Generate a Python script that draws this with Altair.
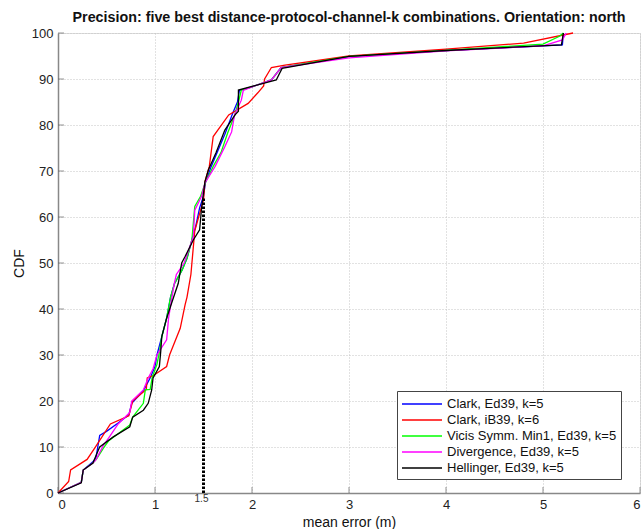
import altair as alt
import pandas as pd

series_names = [
    "Clark, Ed39, k=5",
    "Clark, iB39, k=6",
    "Vicis Symm. Min1, Ed39, k=5",
    "Divergence, Ed39, k=5",
    "Hellinger, Ed39, k=5",
]
series_colors = ["#0000ff", "#ff0000", "#00ff00", "#ff00ff", "#000000"]

blue_x = [0, 0.24, 0.26, 0.36, 0.39, 0.43, 0.5, 0.62, 0.73, 0.76, 0.88, 0.95, 1.0, 1.02, 1.07, 1.12,
          1.16, 1.2, 1.28, 1.33, 1.38, 1.42, 1.46, 1.5, 1.52, 1.58, 1.66, 1.72, 1.8, 1.85, 1.87, 2.0,
          2.2, 2.3, 3.0, 4.0, 4.9, 5.2, 5.21]
blue_y = [0, 2.3, 5, 6.8, 7.5, 12.5, 13.4, 15.2, 17, 19.5, 22.2, 25, 27.5, 30, 34, 38,
          42.5, 45.5, 48.5, 51, 55, 58, 62, 64.5, 67.5, 71, 75, 78, 82.5, 85, 87.5, 88.3,
          89.8, 92.5, 94.9, 96.2, 97.1, 97.4, 100]

red_x = [0, 0.11, 0.13, 0.3, 0.38, 0.54, 0.73, 0.77, 0.91, 0.92, 0.98, 1.12, 1.15, 1.26, 1.31, 1.33,
         1.37, 1.41, 1.5, 1.515, 1.56, 1.6, 1.76, 1.96, 2.06, 2.12, 2.13, 2.2, 2.34, 3.0, 4.0, 4.8, 5.31]
red_y = [0, 2.5, 5, 7.3, 9.8, 15, 16.8, 20, 22.5, 25, 25.5, 27.5, 30, 35.8, 40.9, 42.6,
         47.5, 57, 63.7, 67.7, 71, 77.5, 82.2, 84.7, 87, 88.5, 90, 92.5, 93, 95, 96.5, 97.8, 100]

green_x = [0, 0.24, 0.26, 0.36, 0.4, 0.47, 0.52, 0.74, 0.77, 0.88, 0.9, 0.95, 0.97, 1.02, 1.04, 1.07,
           1.12, 1.16, 1.2, 1.28, 1.33, 1.38, 1.41, 1.47, 1.52, 1.6, 1.68, 1.75, 1.82, 1.86, 1.89,
           2.0, 2.2, 2.3, 3.0, 4.0, 5.0, 5.17, 5.21]
green_y = [0, 2.3, 5, 6.5, 7.5, 9.8, 11.3, 14.8, 16.5, 19.5, 22.4, 22.5, 25, 28, 30, 34,
           38, 42.5, 45.5, 48.5, 51, 55, 62.3, 64.5, 67.5, 71, 74, 78.3, 82, 85, 87.6,
           88.3, 89.8, 92.5, 94.9, 96.2, 97.6, 99.3, 100]

magenta_x = [0, 0.24, 0.26, 0.36, 0.39, 0.47, 0.53, 0.62, 0.74, 0.76, 0.88, 0.93, 0.98, 1.02, 1.12,
             1.14, 1.17, 1.2, 1.22, 1.3, 1.395, 1.41, 1.48, 1.515, 1.62, 1.72, 1.79, 1.82, 1.89, 1.91,
             2.0, 2.2, 2.3, 3.0, 4.0, 5.0, 5.2, 5.24]
magenta_y = [0, 2.3, 5, 6.5, 7.2, 10.4, 12.2, 15, 17.5, 20, 22.4, 25, 27, 30, 33.3,
             38, 42, 45.6, 47.5, 50, 55.7, 61.5, 64.5, 67.4, 71, 75.3, 78.5, 82.2, 85.4, 87.5,
             88.3, 89.8, 92.5, 94.6, 96.1, 97.2, 98.5, 100]

black_x = [0, 0.24, 0.26, 0.36, 0.415, 0.43, 0.57, 0.74, 0.77, 0.88, 0.93, 0.966, 0.98, 1.045, 1.06,
           1.07, 1.12, 1.17, 1.24, 1.275, 1.31, 1.395, 1.46, 1.48, 1.515, 1.55, 1.63, 1.72, 1.825,
           1.86, 1.86, 2.0, 2.25, 2.31, 3.0, 4.0, 4.87, 5.19, 5.21]
black_y = [0, 2.2, 5, 6.5, 9.3, 10, 12.2, 14.4, 16.5, 18, 19.5, 22.4, 25, 27.5, 31,
           34, 38, 41.2, 45.6, 50, 51.4, 55, 57.2, 61.9, 67.7, 70.2, 74, 78.9, 82.2,
           83, 87.6, 88.4, 89.8, 92.3, 94.9, 96.2, 97.1, 97.4, 100]

threshold_x = [1.5, 1.5]
threshold_y = [0, 64]
threshold_label = ["1.5"]

x_ticks = [0, 1, 2, 3, 4, 5, 6]
y_ticks = [0, 10, 20, 30, 40, 50, 60, 70, 80, 90, 100]

title_text = "Precision: five best distance-protocol-channel-k combinations. Orientation: north"

FONT = "Liberation Sans"

all_x = [blue_x, red_x, green_x, magenta_x, black_x]
all_y = [blue_y, red_y, green_y, magenta_y, black_y]
rows = []
for name, xs, ys in zip(series_names, all_x, all_y):
    for i, (xv, yv) in enumerate(zip(xs, ys)):
        rows.append({"series": name, "err": xv, "cdf": yv, "idx": i})
df = pd.DataFrame(rows)

xscale = alt.Scale(domain=[0, 6], nice=False, zero=False)
yscale = alt.Scale(domain=[0, 100], nice=False, zero=False)

color = alt.Color(
    "series:N",
    scale=alt.Scale(domain=series_names, range=series_colors),
    legend=alt.Legend(
        title=None,
        orient="none",
        legendX=339,
        legendY=358,
        symbolType="M-2.5,0L2.5,0",
        symbolSize=256,
        symbolStrokeWidth=1.3,
        symbolOffset=12,
        labelOffset=16,
        labelFont=FONT,
        labelFontSize=13,
        labelColor="#111",
        labelLimit=400,
        strokeColor="#444",
        fillColor="white",
        padding=4,
        rowPadding=0,
    ),
)

xaxis = alt.Axis(
    values=x_ticks, title="mean error (m)", ticks=False, labelPadding=5,
    grid=True, gridDash=[1, 2], gridColor="#c4c4c4",
    domainColor="#888888", domainWidth=1.5,
    labelFont=FONT, labelFontSize=13, labelColor="#222",
    titleFont=FONT, titleFontSize=14, titleFontWeight="normal", titleColor="#111", titlePadding=4,
)
yaxis = alt.Axis(
    values=y_ticks, title="CDF", ticks=False, labelPadding=5,
    grid=True, gridDash=[1, 2], gridColor="#c4c4c4",
    domainColor="#888888", domainWidth=1.5,
    labelFont=FONT, labelFontSize=13, labelColor="#222",
    titleFont=FONT, titleFontSize=14, titleFontWeight="normal", titleColor="#111", titlePadding=5,
)

X = lambda f: alt.X(f, scale=xscale, axis=xaxis)
Y = lambda f: alt.Y(f, scale=yscale, axis=yaxis)

base = alt.Chart(df)
layers = []
for i, name in enumerate(series_names):
    layer = base.transform_filter(alt.datum.series == name).mark_line(strokeWidth=1.3).encode(
        x=X("err:Q"),
        y=Y("cdf:Q"),
        color=color,
        order="idx:Q",
    )
    layers.append(layer)

thr = alt.Chart(pd.DataFrame({"x": threshold_x, "y": threshold_y})).mark_line(
    color="black", strokeWidth=3, strokeDash=[2.5, 1.5]
).encode(x=X("x:Q"), y=Y("y:Q"))

thr_label = alt.Chart(pd.DataFrame({"x": threshold_x[:1], "y": [0], "t": threshold_label})).mark_text(
    font=FONT, fontSize=10, color="#333", dy=6, dx=-2, baseline="middle"
).encode(x=X("x:Q"), y=Y("y:Q"), text="t:N")

xt = alt.Chart(pd.DataFrame({"v": x_ticks, "z": [0] * len(x_ticks)})).mark_tick(
    orient="vertical", size=6, thickness=1, yOffset=-3, color="#666"
).encode(x=X("v:Q"), y=Y("z:Q"))

yt = alt.Chart(pd.DataFrame({"v": y_ticks, "z": [0] * len(y_ticks)})).mark_tick(
    orient="horizontal", size=6, thickness=1, xOffset=3, color="#666"
).encode(y=Y("v:Q"), x=X("z:Q"))

chart = alt.layer(xt, yt, *layers, thr, thr_label).properties(
    width=582,
    height=460,
    autosize="none",
    padding={"left": 58, "top": 33, "right": 4, "bottom": 36},
    title=alt.TitleParams(
        text=title_text, font=FONT, fontSize=14.3, fontWeight="bold", color="#111",
        anchor="middle", offset=2,
    ),
).configure_view(stroke=None).configure(background="white")

chart.save("out.html", embed_options={"renderer": "svg", "actions": False})
